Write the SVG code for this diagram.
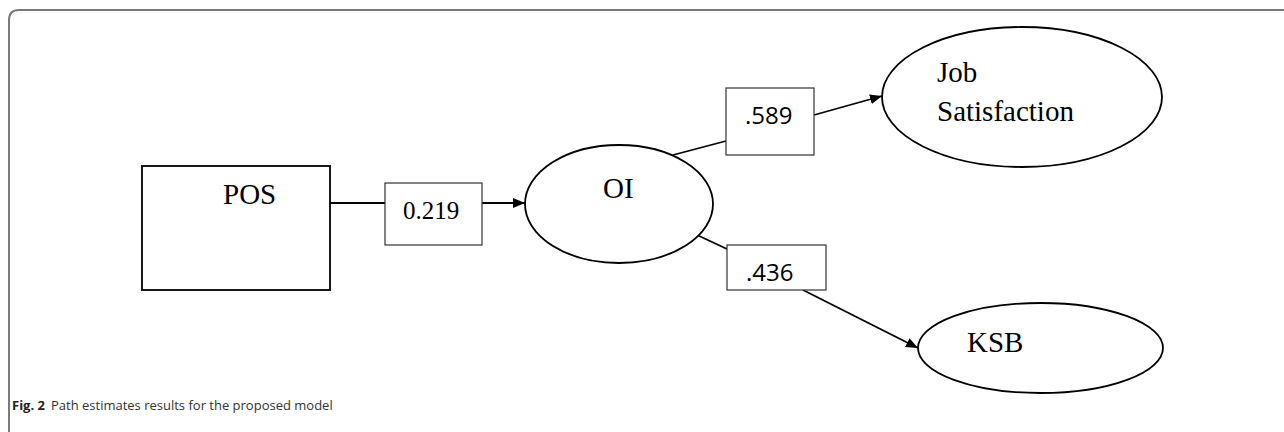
<svg xmlns="http://www.w3.org/2000/svg" width="1284" height="432" viewBox="0 0 1284 432">
<defs>
<marker id="arr" viewBox="0 0 12 10" refX="12" refY="5" markerWidth="12" markerHeight="10" markerUnits="userSpaceOnUse" orient="auto">
<path d="M0,0 L12,5 L0,10 Z" fill="#000"/>
</marker>
</defs>
<style>
.frame{fill:none;stroke:#7a7a7a;stroke-width:2}
.node{fill:#fff;stroke:#000;stroke-width:1.8}
.lbl{fill:#fff;stroke:#333;stroke-width:1.2}
.conn{fill:none;stroke:#000;stroke-width:1.8}
.serif{font-family:"Liberation Serif","Times New Roman",serif;font-size:29px;fill:#000}
.sans{font-family:"Open Sans","Noto Sans",sans-serif;font-size:24px;fill:#000}
.cap{font-family:"Open Sans","Noto Sans",sans-serif;font-size:13px;fill:#333}
</style>
<rect width="1284" height="432" fill="#fff"/>
<path class="frame" d="M9,432 V20 Q9,10 19,10 H1284"/>
<g id="connectors">
<line class="conn" x1="330" y1="203" x2="385" y2="203"/>
<line class="conn" x1="482" y1="203" x2="525" y2="203" marker-end="url(#arr)"/>
<line class="conn" x1="673" y1="155" x2="726" y2="141"/>
<line class="conn" x1="814" y1="115" x2="882" y2="96" marker-end="url(#arr)"/>
<line class="conn" x1="695" y1="234" x2="727" y2="249"/>
<line class="conn" x1="803" y1="290" x2="918" y2="348" marker-end="url(#arr)"/>
</g>
<g id="node-pos">
<rect class="node" x="142" y="166" width="188" height="124"/>
<text class="serif" x="223" y="204">POS</text>
</g>
<g id="label-0219">
<rect class="lbl" x="385" y="183" width="97" height="62"/>
<text class="serif" x="403" y="219" style="font-size:25px">0.219</text>
</g>
<g id="node-oi">
<ellipse class="node" cx="619" cy="204" rx="94" ry="59"/>
<text class="serif" x="603" y="198">OI</text>
</g>
<g id="label-589">
<rect class="lbl" x="726" y="88" width="88" height="67"/>
<text class="sans" x="745" y="124">.589</text>
</g>
<g id="node-job">
<ellipse class="node" cx="1022" cy="97" rx="140" ry="70"/>
<text class="serif" x="937" y="82">Job</text>
<text class="serif" x="937" y="121">Satisfaction</text>
</g>
<g id="label-436">
<rect class="lbl" x="727" y="245" width="99" height="45"/>
<text class="sans" x="746" y="281">.436</text>
</g>
<g id="node-ksb">
<ellipse class="node" cx="1040.5" cy="348" rx="122.5" ry="45"/>
<text class="serif" x="967" y="352">KSB</text>
</g>
<text class="cap" x="12" y="410"><tspan font-weight="bold" fill="#222">Fig. 2</tspan><tspan dx="6">Path estimates results for the proposed model</tspan></text>
</svg>
